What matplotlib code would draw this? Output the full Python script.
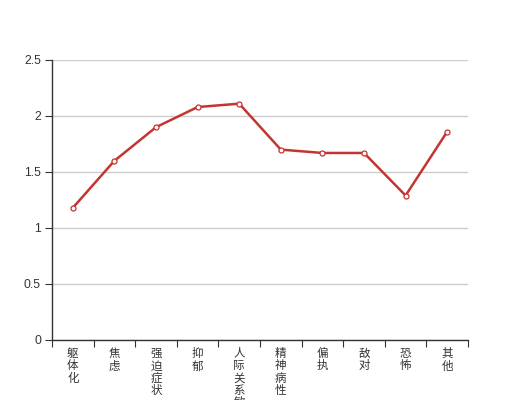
import matplotlib
matplotlib.use("Agg")
import matplotlib.pyplot as plt
import numpy as np

plt.rcParams['font.family'] = ['Noto Sans CJK SC', 'DejaVu Sans']

categories = ["躯体化", "焦虑", "强迫症状", "抑郁", "人际关系敏感", "精神病性", "偏执", "敌对", "恐怖", "其他"]
values = [1.18, 1.60, 1.90, 2.08, 2.11, 1.70, 1.67, 1.67, 1.29, 1.86]
yticks = [0, 0.5, 1, 1.5, 2, 2.5]
ytick_labels = ["0", "0.5", "1", "1.5", "2", "2.5"]

fig = plt.figure(figsize=(5.2, 4.0), dpi=100)
ax = fig.add_axes([0.1, 0.15, 0.8, 0.70])

x = np.arange(len(categories))
ax.plot(x, values, color='#c23531', linewidth=1.8, marker='o', markersize=3.6,
        markerfacecolor='white', markeredgecolor='#c23531', markeredgewidth=0.9, zorder=3)

ax.set_xlim(-0.5, len(categories) - 0.5)
ax.set_ylim(0, 2.5)
ax.set_yticks(yticks)
ax.set_yticklabels(ytick_labels, family=['Liberation Sans', 'DejaVu Sans'])
ax.yaxis.grid(True, color='#cccccc', linewidth=1)
ax.set_axisbelow(True)

ax.set_xticks(np.arange(len(categories) + 1) - 0.5)
ax.set_xticklabels([])
ax.set_xticks(x, minor=True)
ax.set_xticklabels(["\n".join(c) for c in categories], minor=True, va='top',
                   linespacing=0.95)
ax.tick_params(axis='x', which='major', length=5, color='#333333', direction='out')
ax.tick_params(axis='x', which='minor', length=0, pad=5, labelsize=8.3, labelcolor='#333333')
ax.tick_params(axis='y', length=5, color='#333333', labelsize=8.8, labelcolor='#333333', pad=3)

for s in ['top', 'right']:
    ax.spines[s].set_visible(False)
for s in ['left', 'bottom']:
    ax.spines[s].set_color('#333333')
    ax.spines[s].set_linewidth(1)

fig.savefig("out.png", dpi=100)
